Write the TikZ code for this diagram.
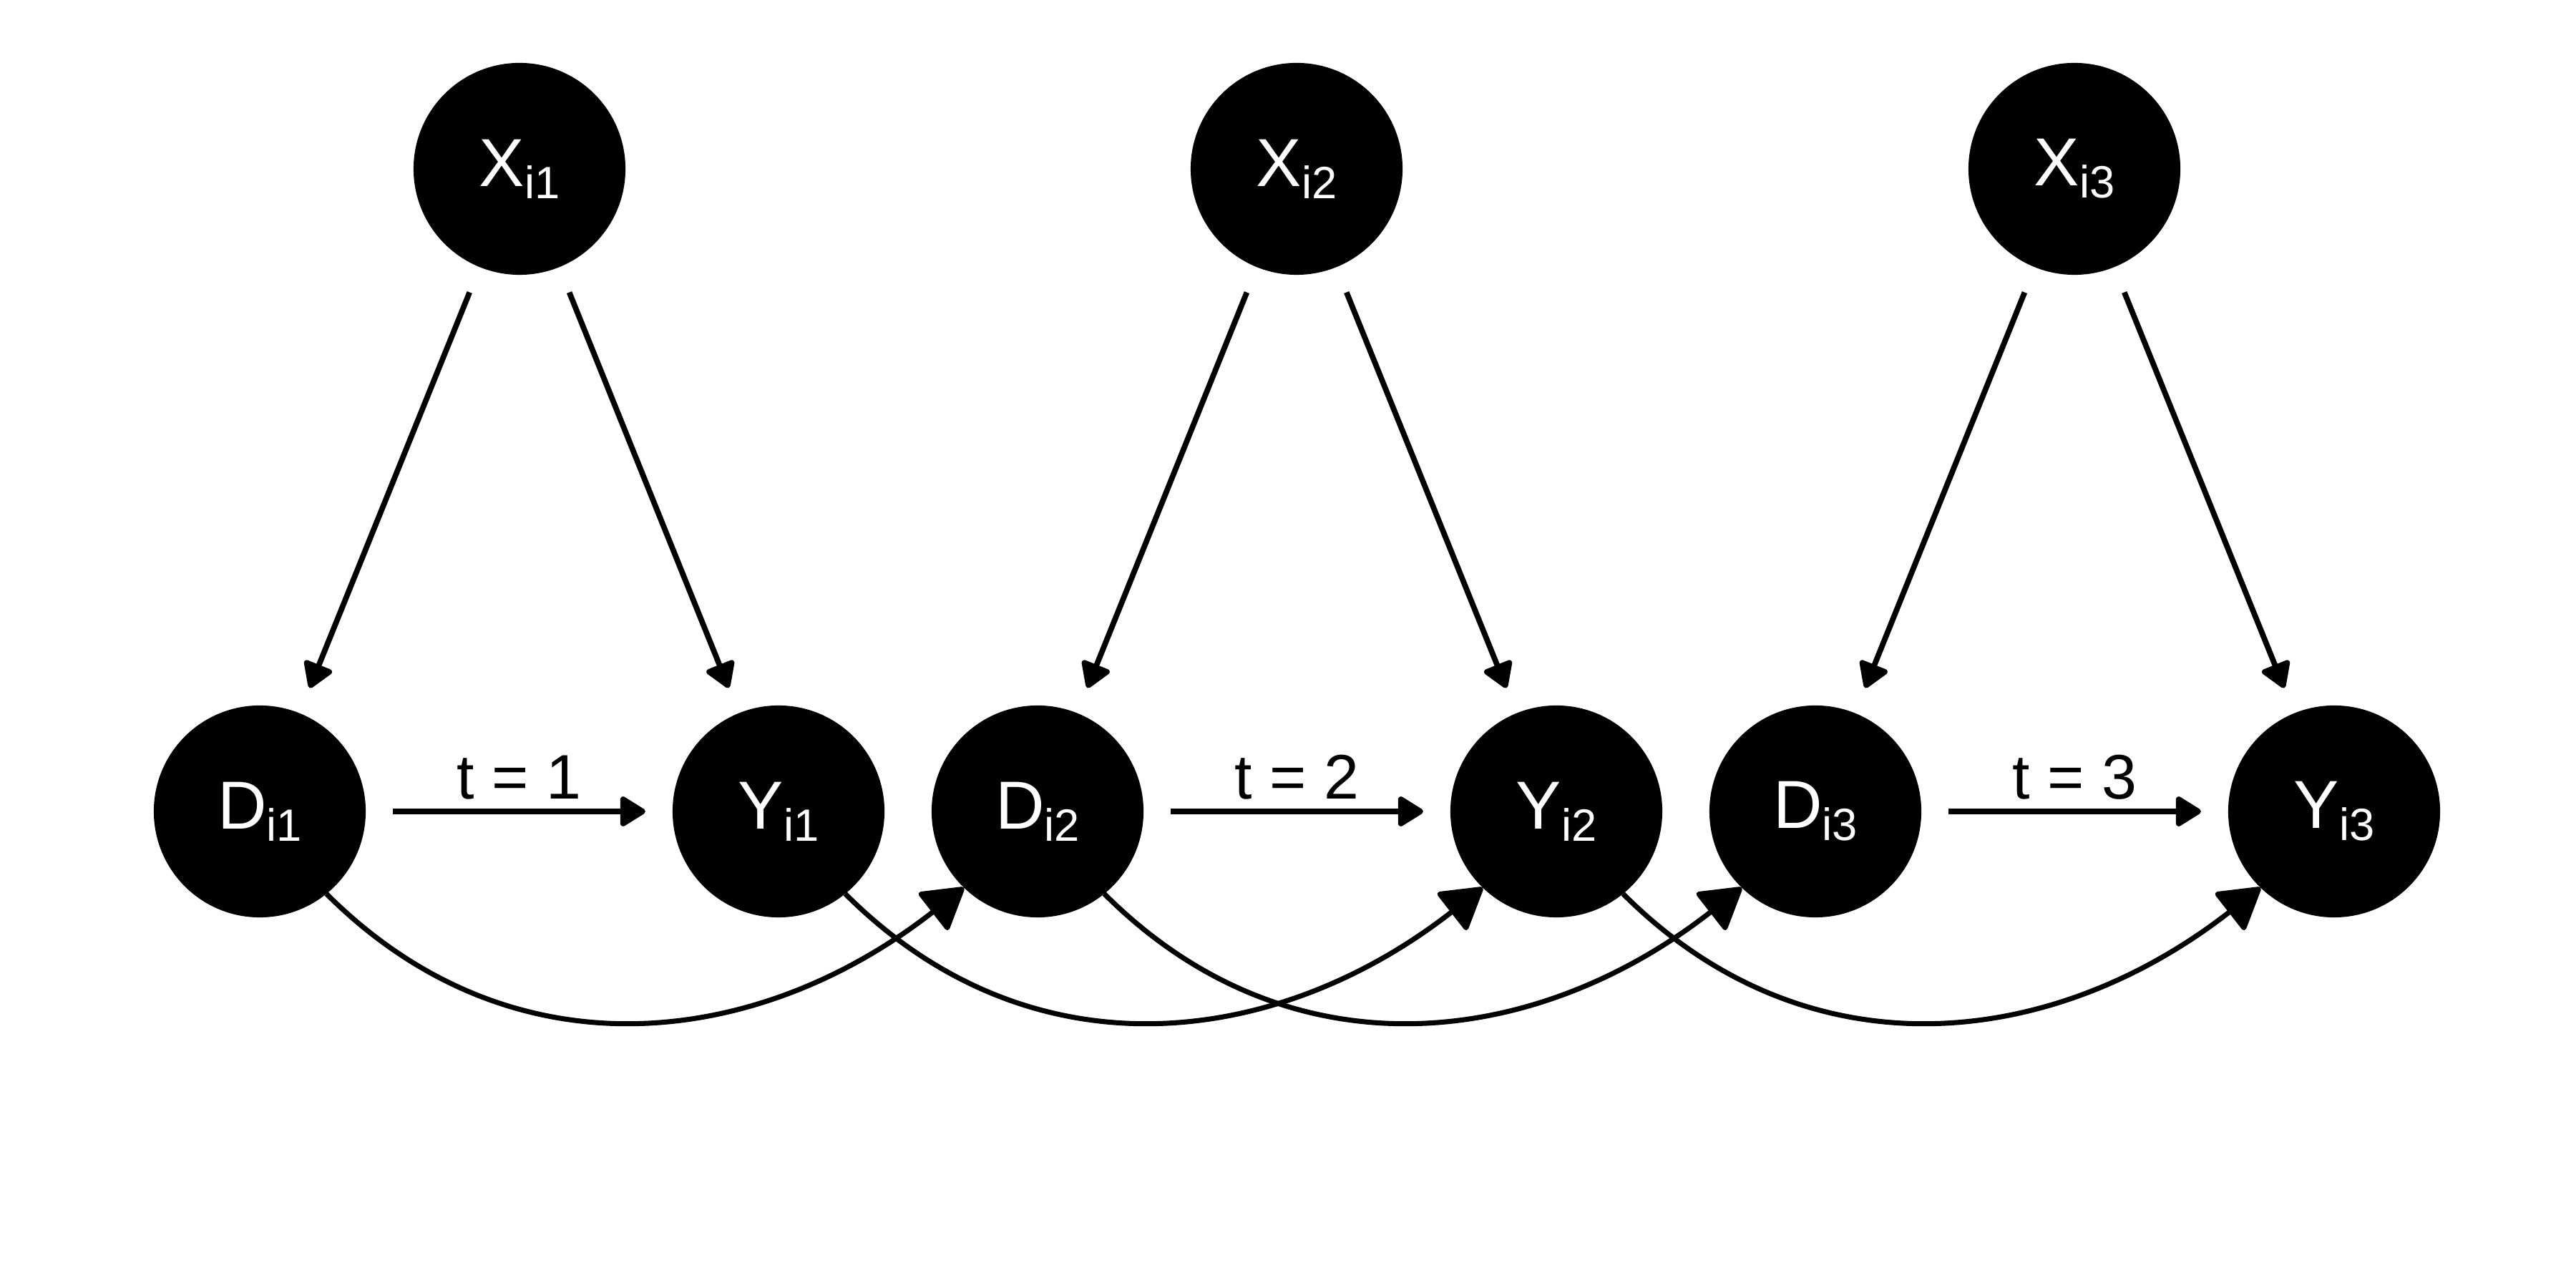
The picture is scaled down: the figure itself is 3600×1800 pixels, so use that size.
\documentclass[tikz,border=0pt]{standalone}
\usepackage{fontspec}
\setmainfont{Liberation Sans}
\usetikzlibrary{arrows.meta}
\newcommand{\varlbl}[2]{#1\raisebox{-4.8pt}{\fontsize{18}{18}\selectfont #2}}
\begin{document}
\begin{tikzpicture}[x=0.01cm,y=0.01cm,
  var/.style={circle,fill=black,draw=none,minimum size=2.96cm,inner sep=0pt,outer sep=0pt,
    text=white,font=\fontsize{27}{27}\selectfont},
  straightarrow/.style={line width=2.2pt,shorten <=0.38cm,shorten >=0.38cm,
    -{Triangle[length=11pt,width=13pt,round]}},
  curvedarrow/.style={line width=2pt,
    -{Triangle[length=17pt,width=20pt,round]}},
  tlabel/.style={font=\fontsize{25}{25}\selectfont,anchor=base,yshift=0.17cm}]
\useasboundingbox (0,0) rectangle (3600,1800);
% top row
\node[var] (X1) at (726,1564) {\varlbl{X}{i1}};
\node[var] (X2) at (1812,1564) {\varlbl{X}{i2}};
\node[var] (X3) at (2899,1564) {\varlbl{X}{i3}};
% bottom row
\node[var] (D1) at (363,666) {\varlbl{D}{i1}};
\node[var] (Y1) at (1088,666) {\varlbl{Y}{i1}};
\node[var] (D2) at (1450,666) {\varlbl{D}{i2}};
\node[var] (Y2) at (2175,666) {\varlbl{Y}{i2}};
\node[var] (D3) at (2537,666) {\varlbl{D}{i3}};
\node[var] (Y3) at (3262,666) {\varlbl{Y}{i3}};
% X arrows
\draw[straightarrow] (X1) -- (D1);
\draw[straightarrow] (X1) -- (Y1);
\draw[straightarrow] (X2) -- (D2);
\draw[straightarrow] (X2) -- (Y2);
\draw[straightarrow] (X3) -- (D3);
\draw[straightarrow] (X3) -- (Y3);
% time arrows
\draw[straightarrow] (D1) -- node[tlabel,midway] {t = 1} (Y1);
\draw[straightarrow] (D2) -- node[tlabel,midway] {t = 2} (Y2);
\draw[straightarrow] (D3) -- node[tlabel,midway] {t = 3} (Y3);
% curved arrows
\draw[curvedarrow] (D1.-51) to[out=-45,in=-142,looseness=1.05] (D2.-134);
\draw[curvedarrow] (Y1.-51) to[out=-45,in=-142,looseness=1.05] (Y2.-134);
\draw[curvedarrow] (D2.-51) to[out=-45,in=-142,looseness=1.05] (D3.-134);
\draw[curvedarrow] (Y2.-51) to[out=-45,in=-142,looseness=1.05] (Y3.-134);
\end{tikzpicture}
\end{document}
